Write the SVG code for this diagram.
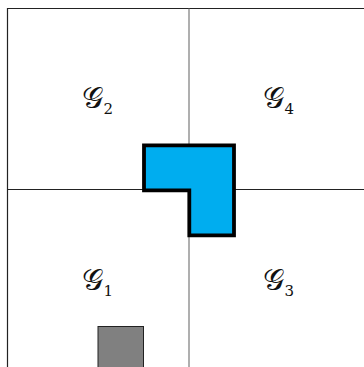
<svg xmlns="http://www.w3.org/2000/svg" width="364" height="367" viewBox="0 0 364 367">
<style>
.grid{stroke:#7a7a7a;stroke-width:1.2;fill:none}
.frame{stroke:#222;stroke-width:1.2;fill:none}
.lbl{font-family:"Liberation Serif",serif;font-size:30px;fill:#111}
.sub{font-family:"DejaVu Serif","Liberation Serif",serif;font-size:15px;fill:#111}
</style>
<rect width="364" height="367" fill="#fff"/>
<g id="connectors">
<line class="frame" x1="7.5" y1="8.5" x2="364" y2="8.5"/>
<line class="frame" x1="7.5" y1="8" x2="7.5" y2="367"/>
<line class="grid" x1="189" y1="8.5" x2="189" y2="367"/>
<line class="frame" x1="7.5" y1="189.5" x2="364" y2="189.5"/>
</g>
<g id="G2"><text class="lbl" x="82" y="108">𝒢</text><text class="sub" x="103.5" y="114">2</text></g>
<g id="G4"><text class="lbl" x="263" y="108">𝒢</text><text class="sub" x="284.5" y="114">4</text></g>
<g id="G1"><text class="lbl" x="82" y="290">𝒢</text><text class="sub" x="103.5" y="296">1</text></g>
<g id="G3"><text class="lbl" x="263" y="290">𝒢</text><text class="sub" x="284.5" y="296">3</text></g>
<g id="lshape"><polygon points="144,145.3 234,145.3 234,235.3 189.3,235.3 189.3,190.3 144,190.3" fill="#00adef" stroke="#000" stroke-width="3.8"/></g>
<g id="square"><rect x="98" y="326.5" width="45.5" height="45" fill="#808080" stroke="#222" stroke-width="1"/></g>
</svg>
